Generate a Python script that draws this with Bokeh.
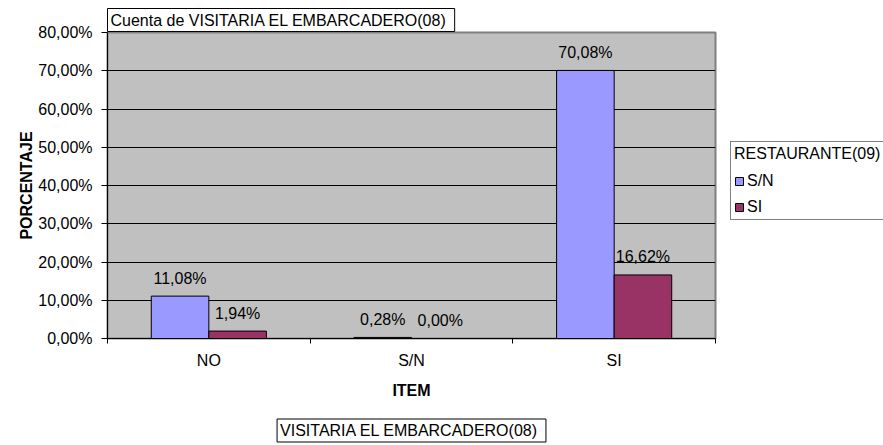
from bokeh.plotting import figure
from bokeh.models import (ColumnDataSource, FixedTicker, Legend, LegendItem, Range1d, Title)
from bokeh.embed import file_html
from bokeh.resources import INLINE

# ---- data ----
categories = ["NO", "S/N", "SI"]
series_names = ["S/N", "SI"]
sn_values = [11.08, 0.28, 70.08]
si_values = [1.94, 0.00, 16.62]
y_ticks = [0, 10, 20, 30, 40, 50, 60, 70, 80]
title_text = "Cuenta de VISITARIA  EL EMBARCADERO(08)"
bottom_text = "VISITARIA  EL EMBARCADERO(08)"
legend_title = "RESTAURANTE(09)"
x_title = "ITEM"
y_title = "PORCENTAJE"

FONT = "Liberation Sans"
FS = "16px"
SN_COLOR = "#9999FF"
SI_COLOR = "#993366"
BAR_W = 0.284


def pct(v):
    return f"{v:.2f}%".replace(".", ",")


n = len(categories)
p = figure(frame_width=608, frame_height=306,
           min_border_left=107, min_border_top=32, min_border_right=160, min_border_bottom=107,
           x_range=Range1d(0, n), y_range=Range1d(y_ticks[0], y_ticks[-1]),
           output_backend="svg", toolbar_location=None)
p.background_fill_color = "#C0C0C0"
p.border_fill_color = "white"
p.outline_line_color = "#808080"
p.outline_line_width = 2

centers = [i + 0.5 for i in range(n)]
src = ColumnDataSource(dict(
    x_sn=[c - BAR_W / 2 for c in centers],
    x_si=[c + BAR_W / 2 for c in centers],
    sn=sn_values, si=si_values,
    sn_lbl=[pct(v) for v in sn_values],
    si_lbl=[pct(v) for v in si_values],
))

r_sn = p.vbar(x="x_sn", top="sn", bottom=0, width=BAR_W, source=src,
              fill_color=SN_COLOR, line_color="black", line_width=1)
r_si = p.vbar(x="x_si", top="si", bottom=0, width=BAR_W, source=src,
              fill_color=SI_COLOR, line_color="black", line_width=1)

for xcol, lcol, ycol in (("x_sn", "sn_lbl", "sn"), ("x_si", "si_lbl", "si")):
    p.text(x=xcol, y=ycol, text=lcol, source=src, text_align="center",
           text_baseline="alphabetic", y_offset=-18, text_font_size=FS,
           text_font={"value": FONT}, text_color="black")

# grid
p.xgrid.visible = False
p.ygrid.ticker = FixedTicker(ticks=y_ticks)
p.ygrid.grid_line_color = "black"
p.ygrid.grid_line_width = 1

# x axis
p.xaxis.ticker = FixedTicker(ticks=centers, minor_ticks=list(range(n + 1)))
p.xaxis.major_label_overrides = {c: cat for c, cat in zip(centers, categories)}
p.xaxis.major_tick_out = 0
p.xaxis.major_tick_in = 0
p.xaxis.minor_tick_out = 5
p.xaxis.minor_tick_in = 0
p.xaxis.minor_tick_line_color = "black"
p.xaxis.major_label_standoff = 8
p.xaxis.axis_label = x_title
p.xaxis.axis_label_standoff = 10

# y axis
p.yaxis.ticker = FixedTicker(ticks=y_ticks)
p.yaxis.major_label_overrides = {t: pct(t) for t in y_ticks}
p.yaxis.major_tick_out = 6
p.yaxis.major_tick_in = 0
p.yaxis.minor_tick_line_color = None
p.yaxis.major_label_standoff = 9
p.yaxis.axis_label = y_title
p.yaxis.axis_label_standoff = 0

for ax in (p.xaxis, p.yaxis):
    ax.axis_line_color = "black"
    ax.major_tick_line_color = "black"
    ax.major_label_text_font = FONT
    ax.major_label_text_font_size = FS
    ax.major_label_text_color = "black"
    ax.axis_label_text_font = FONT
    ax.axis_label_text_font_size = FS
    ax.axis_label_text_font_style = "bold"
    ax.axis_label_text_color = "black"

# legend (outside, right)
legend = Legend(items=[LegendItem(label=series_names[0], renderers=[r_sn]),
                       LegendItem(label=series_names[1], renderers=[r_si])],
                location=(15, 118), title=legend_title,
                title_text_font=FONT, title_text_font_size=FS, title_text_font_style="normal",
                title_text_color="black", title_standoff=9,
                border_line_color="black", border_line_width=1,
                background_fill_color="white", background_fill_alpha=1.0,
                label_text_font=FONT, label_text_font_size=FS, label_text_color="black",
                glyph_width=10, glyph_height=10, label_standoff=3, padding=3,
                spacing=8, margin=0, label_height=17)
p.add_layout(legend, "right")

box_kw = dict(text_font=FONT, text_font_size=FS, text_font_style="normal", text_color="black",
              border_line_color="black", border_line_width=1,
              background_fill_color="white", background_fill_alpha=1.0, padding=3)

p.add_layout(Title(text=title_text, align="left", standoff=2, **box_kw), "above")
p.add_layout(Title(text=bottom_text, align="center", standoff=31, **box_kw), "below")

open("out.html", "w").write(file_html(p, INLINE))
